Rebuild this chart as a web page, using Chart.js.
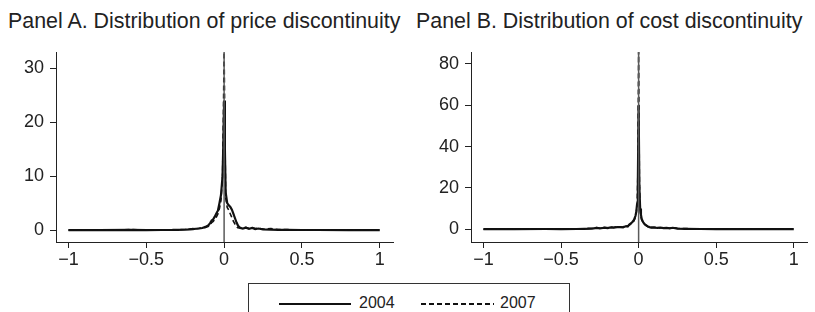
<!DOCTYPE html>
<html>
<head>
<meta charset="utf-8">
<script src="https://cdn.jsdelivr.net/npm/chart.js@4/dist/chart.umd.min.js"></script>
<style>
  body { margin: 0; background: #fff; width: 815px; height: 312px; overflow: hidden; position: relative; font-family: "Liberation Sans", Arial, sans-serif; color: #222; }
  canvas { position: absolute; top: 0; }
  .panel-title { position: absolute; top: 9px; font-size: 21.4px; white-space: nowrap; }
  .legend { position: absolute; left: 248px; top: 283px; width: 322px; height: 40px; border: 1px solid #333; box-sizing: border-box; }
  .legend .item { position: absolute; top: 10px; font-size: 16px; line-height: 18px; }
  .legend .swatch { position: absolute; top: 19px; height: 2px; }
</style>
</head>
<body>
<div class="panel-title" style="left:8px">Panel A. Distribution of price discontinuity</div>
<div class="panel-title" style="left:416px">Panel B. Distribution of cost discontinuity</div>
<canvas id="chartA" width="410" height="275" style="left:0"></canvas>
<canvas id="chartB" width="405" height="275" style="left:410px"></canvas>
<div class="legend">
  <div class="swatch" style="left:30px;width:72px;background:#111"></div>
  <div class="item" style="left:110px">2004</div>
  <div class="swatch" style="left:172px;width:73px;height:1.5px;background:repeating-linear-gradient(to right,#111 0 5px,transparent 5px 8px)"></div>
  <div class="item" style="left:251px">2007</div>
</div>
<script>
// x tick labels shared by both panels
const xTicks = [-1, -0.5, 0, 0.5, 1];
const yTicksA = [0, 10, 20, 30];
const yTicksB = [0, 20, 40, 60, 80];

// Panel A: price discontinuity density
const xA = [-1, -0.8, -0.6, -0.5, -0.4, -0.3, -0.25, -0.22, -0.2, -0.18, -0.16, -0.14, -0.12, -0.1, -0.09, -0.08, -0.07, -0.06, -0.05, -0.04, -0.03, -0.02, -0.01, -0.005, 0, 0.005, 0.01, 0.02, 0.03, 0.04, 0.05, 0.06, 0.07, 0.08, 0.09, 0.1, 0.12, 0.14, 0.16, 0.18, 0.2, 0.22, 0.25, 0.3, 0.35, 0.4, 0.5, 0.6, 0.8, 1];
const priceA2004 = [0, 0, 0.05, 0, 0.02, 0.05, 0.1, 0.15, 0.2, 0.25, 0.3, 0.4, 0.6, 0.9, 1.3, 1.8, 2.0, 2.5, 3.1, 3.6, 5.0, 6.5, 10, 16, 24, 15, 7, 5.0, 4.6, 4.3, 3.8, 3.0, 2.2, 1.4, 0.8, 0.45, 0.3, 0.45, 0.25, 0.4, 0.2, 0.3, 0.15, 0.1, 0.05, 0.05, 0.02, 0.02, 0, 0];
const priceA2007 = [0, 0, 0.1, 0, 0.05, 0.1, 0.15, 0.2, 0.3, 0.25, 0.35, 0.4, 0.5, 0.7, 1.0, 1.4, 1.6, 2.0, 2.4, 3.0, 4.0, 5.5, 10, 20, 33, 18, 6, 4.2, 3.7, 3.0, 2.3, 1.6, 1.1, 0.6, 0.4, 0.5, 0.35, 0.5, 0.3, 0.45, 0.3, 0.35, 0.2, 0.3, 0.1, 0.1, 0.05, 0.05, 0.02, 0];

// Panel B: cost discontinuity density
const xB = [-1, -0.8, -0.6, -0.5, -0.4, -0.35, -0.3, -0.27, -0.25, -0.22, -0.2, -0.18, -0.16, -0.14, -0.12, -0.1, -0.08, -0.07, -0.06, -0.05, -0.04, -0.03, -0.02, -0.015, -0.01, -0.005, 0, 0.005, 0.01, 0.015, 0.02, 0.03, 0.04, 0.05, 0.06, 0.07, 0.08, 0.1, 0.12, 0.14, 0.16, 0.18, 0.2, 0.22, 0.25, 0.3, 0.4, 0.5, 0.6, 0.8, 1];
const costB2004 = [0, 0, 0.1, 0, 0.1, 0.2, 0.3, 0.6, 0.4, 0.7, 0.5, 0.9, 0.7, 1.0, 1.0, 0.9, 1.5, 1.3, 2.2, 2.8, 3.5, 4.5, 6.5, 8.5, 12, 22, 60, 20, 10, 7, 5, 3.3, 2.4, 1.8, 1.3, 1.0, 0.8, 0.9, 0.6, 0.8, 0.5, 0.6, 0.4, 0.7, 0.3, 0.2, 0.1, 0.05, 0.02, 0, 0];
const costB2007 = [0, 0, 0.2, 0, 0.2, 0.3, 0.5, 0.8, 0.5, 0.9, 0.7, 1.1, 0.9, 1.2, 1.1, 1.2, 1.7, 1.5, 2.0, 2.5, 3.0, 4.0, 6.0, 8.0, 11, 26, 86, 24, 9, 6, 4.5, 3.0, 2.2, 1.6, 1.2, 0.9, 0.9, 0.8, 0.7, 0.6, 0.6, 0.5, 0.5, 0.8, 0.4, 0.3, 0.15, 0.1, 0.05, 0.02, 0];

const FONT = "Liberation Sans";

const toPoints = (xs, ys) => xs.map((x, i) => ({ x: x, y: ys[i] }));
const fmt = (v) => (v < 0 ? "\u2212" + Math.abs(v) : String(v));

// grey reference line at x = 0
const zeroLine = {
  id: "zeroLine",
  afterDatasetsDraw(chart) {
    const { ctx, chartArea, scales } = chart;
    const px = scales.x.getPixelForValue(0);
    ctx.save();
    ctx.strokeStyle = "#5a5a5a";
    ctx.lineWidth = 1.5;
    ctx.beginPath();
    ctx.moveTo(px, chartArea.top);
    ctx.lineTo(px, chartArea.bottom);
    ctx.stroke();
    ctx.restore();
  },
};

const makePanel = function (id, xs, s2004, s2007, yTicks, yMin, yMax, yWidth, padRight) {
  const ctx = document.getElementById(id).getContext("2d");
  new Chart(ctx, {
    type: "line",
    data: {
      datasets: [
        {
          label: "2004",
          data: toPoints(xs, s2004),
          borderColor: "#111",
          borderWidth: 2.2,
          pointRadius: 0,
          order: 1,
        },
        {
          label: "2007",
          data: toPoints(xs, s2007),
          borderColor: "#111",
          borderWidth: 1.6,
          borderDash: [5, 3],
          pointRadius: 0,
          order: 0,
        },
      ],
    },
    options: {
      responsive: false,
      animation: false,
      layout: { padding: { top: 52, right: padRight, left: 0, bottom: 0 } },
      plugins: { legend: { display: false }, tooltip: { enabled: false } },
      scales: {
        x: {
          type: "linear",
          min: -1.08,
          max: 1.085,
          afterFit: (s) => { s.height = 33; },
          afterBuildTicks: (s) => { s.ticks = xTicks.map((v) => ({ value: v })); },
          grid: { drawOnChartArea: false, drawTicks: true, tickLength: 6, color: "#222" },
          border: { color: "#222", width: 1 },
          ticks: {
            color: "#222",
            font: { family: FONT, size: 18 },
            padding: 1,
            maxRotation: 0,
            callback: fmt,
          },
        },
        y: {
          type: "linear",
          min: yMin,
          max: yMax,
          afterFit: (s) => { s.width = yWidth; },
          afterBuildTicks: (s) => { s.ticks = yTicks.map((v) => ({ value: v })); },
          grid: { drawOnChartArea: false, drawTicks: true, tickLength: 6, color: "#222" },
          border: { color: "#222", width: 1 },
          ticks: {
            color: "#222",
            font: { family: FONT, size: 18 },
            padding: 6,
            callback: fmt,
          },
        },
      },
    },
    plugins: [zeroLine],
  });
};

makePanel("chartA", xA, priceA2004, priceA2007, yTicksA, -2.2, 33, 56, 17);
makePanel("chartB", xB, costB2004, costB2007, yTicksB, -6.2, 85.8, 61, 8);
</script>
</body>
</html>
